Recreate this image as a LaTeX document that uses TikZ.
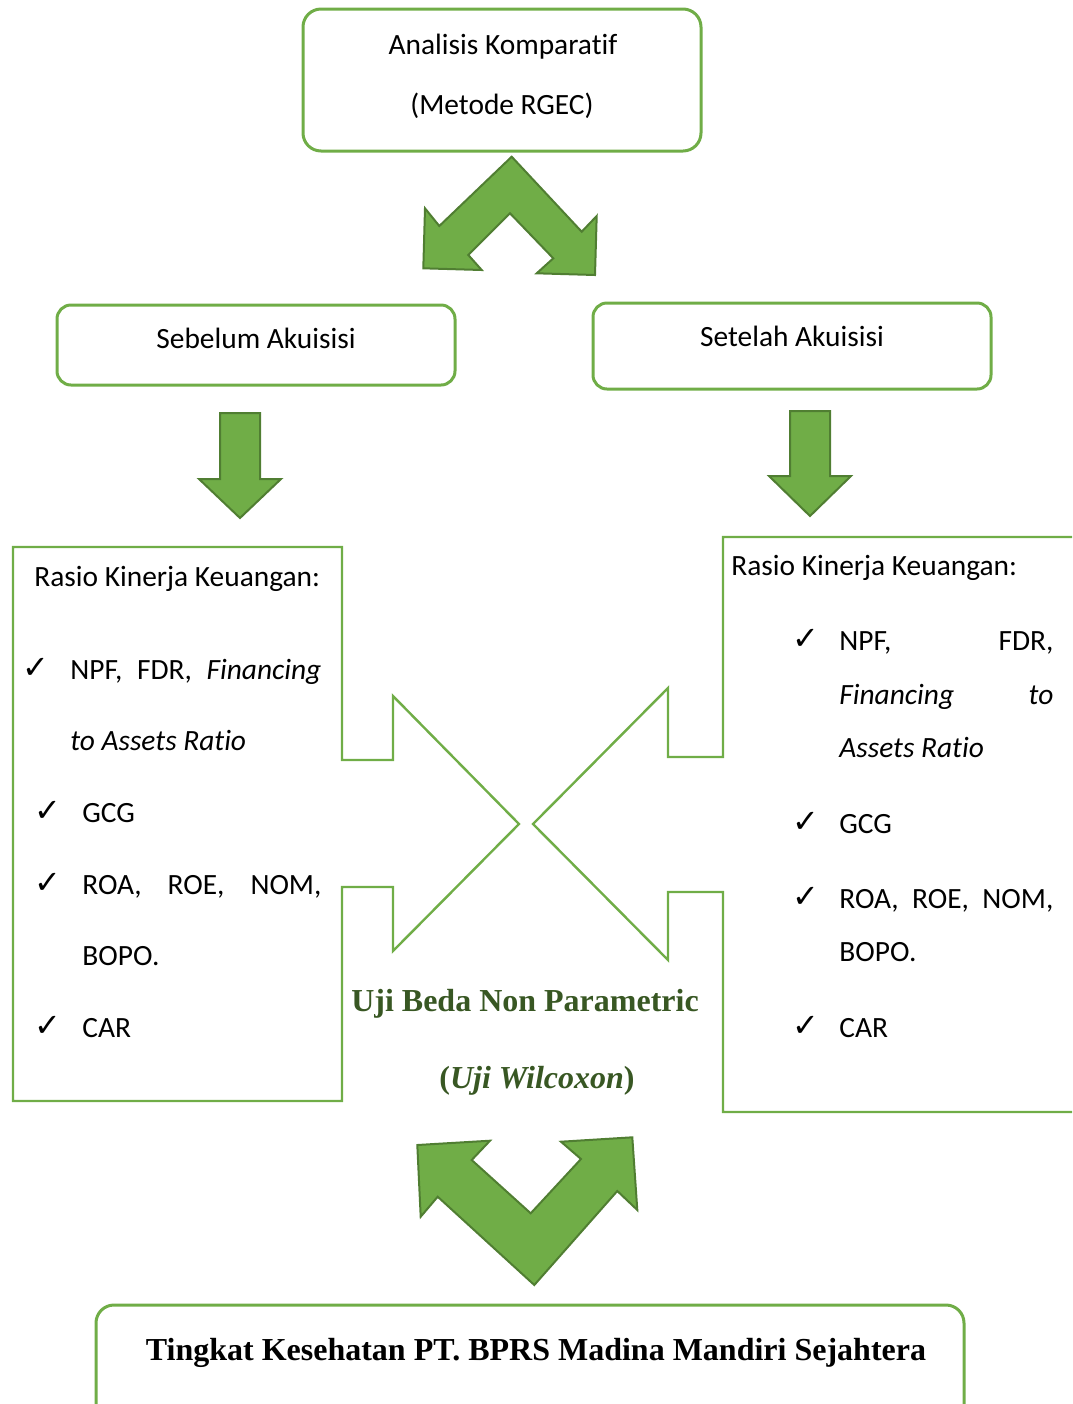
\documentclass[tikz,border=0pt]{standalone}
\usepackage{fontspec}
\setmainfont{Carlito}[Ligatures = NoCommon]
\newfontfamily\serifbold{Liberation Serif}
\newfontfamily\checkfont{DejaVu Sans}
\definecolor{accgreen}{HTML}{70AD47}
\definecolor{darkgreen}{HTML}{507E32}
\definecolor{textgreen}{HTML}{385723}

\begin{document}
\begin{tikzpicture}[
    x = 0.5pt, y = -0.5pt,
    rbox/.style = {draw = accgreen, line width = 1.5pt, rounded corners = 9pt, inner sep = 0pt, minimum width = 199pt},
    blockarrow/.style = {fill = accgreen, draw = darkgreen, line width = 1pt},
    callout/.style = {draw = accgreen, line width = 1.2pt},
    txt/.style = {inner sep = 0pt, anchor = base, font = \fontsize{14.7}{17}\selectfont},
    item/.style = {txt, anchor = base west},
    tick/.style = {inner sep = 0pt, anchor = base west, font = \checkfont\fontsize{16}{18}\selectfont},
    result/.style = {inner sep = 0pt, anchor = base, font = \serifbold\bfseries\fontsize{16}{19}\selectfont}
]
\useasboundingbox (0,0) rectangle (1072,1404);
\clip (0,0) rectangle (1072,1404);

% boxes
\node[rbox, minimum height = 71pt] (komp) at (502,80) {};
\node[rbox, minimum height = 40pt, rounded corners = 7pt] (before) at (256,345) {};
\node[rbox, minimum height = 43pt, rounded corners = 7pt] (after) at (792,346) {};
\node[rbox, minimum width = 434pt, minimum height = 60pt] (health) at (530,1365) {};

\node[txt] (kompa) at (503,54) {Analisis Komparatif};
\node[txt] (kompb) at (502,114) {(Metode RGEC)};
\node[txt] (beforet) at (256,348) {Sebelum Akuisisi};
\node[txt] (aftert) at (792,346) {Setelah Akuisisi};
\node[result, text = black] (healtht) at (536,1360) {Tingkat Kesehatan PT. BPRS Madina Mandiri Sejahtera};

% block arrows
\draw[blockarrow] (511.7,156.7) -- (581.7,231.7) -- (596.7,216) -- (595,275) -- (536.7,273.3) -- (553.3,258.3) -- (510,213.3) -- (468.3,255) -- (481.7,270) -- (423.3,268.3) -- (425,208.3) -- (439.3,226) -- cycle;
\draw[blockarrow] (220,413) -- (260,413) -- (260,479) -- (281,479) -- (240,518) -- (199,479) -- (220,479) -- cycle;
\draw[blockarrow] (790,411) -- (830,411) -- (830,476) -- (851,476) -- (810,516) -- (769,476) -- (790,476) -- cycle;
\draw[blockarrow] (534.3,1285) -- (617.3,1191) -- (637.3,1210) -- (632.3,1137.3) -- (561,1141.7) -- (581,1159) -- (530.7,1213.3) -- (471.7,1160) -- (490,1140.7) -- (417.3,1145) -- (420.7,1216.7) -- (437.7,1196.7) -- cycle;

% callouts
\draw[callout] (13,547) -- (342,547) -- (342,760) -- (393,760) -- (393,696) -- (519,824) -- (393,951) -- (393,887) -- (342,887) -- (342,1101) -- (13,1101) -- cycle;
\draw[callout] (1100,537) -- (723,537) -- (723,757) -- (668,757) -- (668,688) -- (533,824) -- (668,960) -- (668,892) -- (723,892) -- (723,1112) -- (1100,1112);

% left list
\node[item] (lhead) at (34,586) {Rasio Kinerja Keuangan:};
\node[tick] (lck1) at (22,678) {✓};
\node[item] (lnpf) at (70,679) {\makebox[125.5pt][s]{NPF, FDR, \textit{Financing}}};
\node[item] (lfar) at (70,750) {\textit{to Assets Ratio}};
\node[tick] (lck2) at (34,821) {✓};
\node[item] (lgcg) at (82,822) {GCG};
\node[tick] (lck3) at (34,893) {✓};
\node[item] (lroa) at (82,894) {\makebox[119.5pt][s]{ROA, ROE, NOM,}};
\node[item] (lbopo) at (82,965) {BOPO.};
\node[tick] (lck4) at (34,1036) {✓};
\node[item] (lcar) at (82,1037) {CAR};

% right list
\node[item] (rhead) at (731,575) {Rasio Kinerja Keuangan:};
\node[tick] (rck1) at (792,649) {✓};
\node[item] (rnpf) at (839,650) {\makebox[107pt][s]{NPF, FDR,}};
\node[item] (rfin) at (839,704) {\makebox[107pt][s]{\textit{Financing} \textit{to}}};
\node[item] (rar) at (839,757) {\textit{Assets Ratio}};
\node[tick] (rck2) at (792,832) {✓};
\node[item] (rgcg) at (839,833) {GCG};
\node[tick] (rck3) at (792,907) {✓};
\node[item] (rroa) at (839,908) {\makebox[107pt][s]{ROA, ROE, NOM,}};
\node[item] (rbopo) at (839,961) {BOPO.};
\node[tick] (rck4) at (792,1036) {✓};
\node[item] (rcar) at (839,1037) {CAR};

% test label
\node[result, text = textgreen] (uji) at (525,1011) {Uji Beda Non Parametric};
\node[result, text = textgreen] (wilc) at (537,1088) {(\textit{Uji Wilcoxon})};

\end{tikzpicture}
\end{document}
